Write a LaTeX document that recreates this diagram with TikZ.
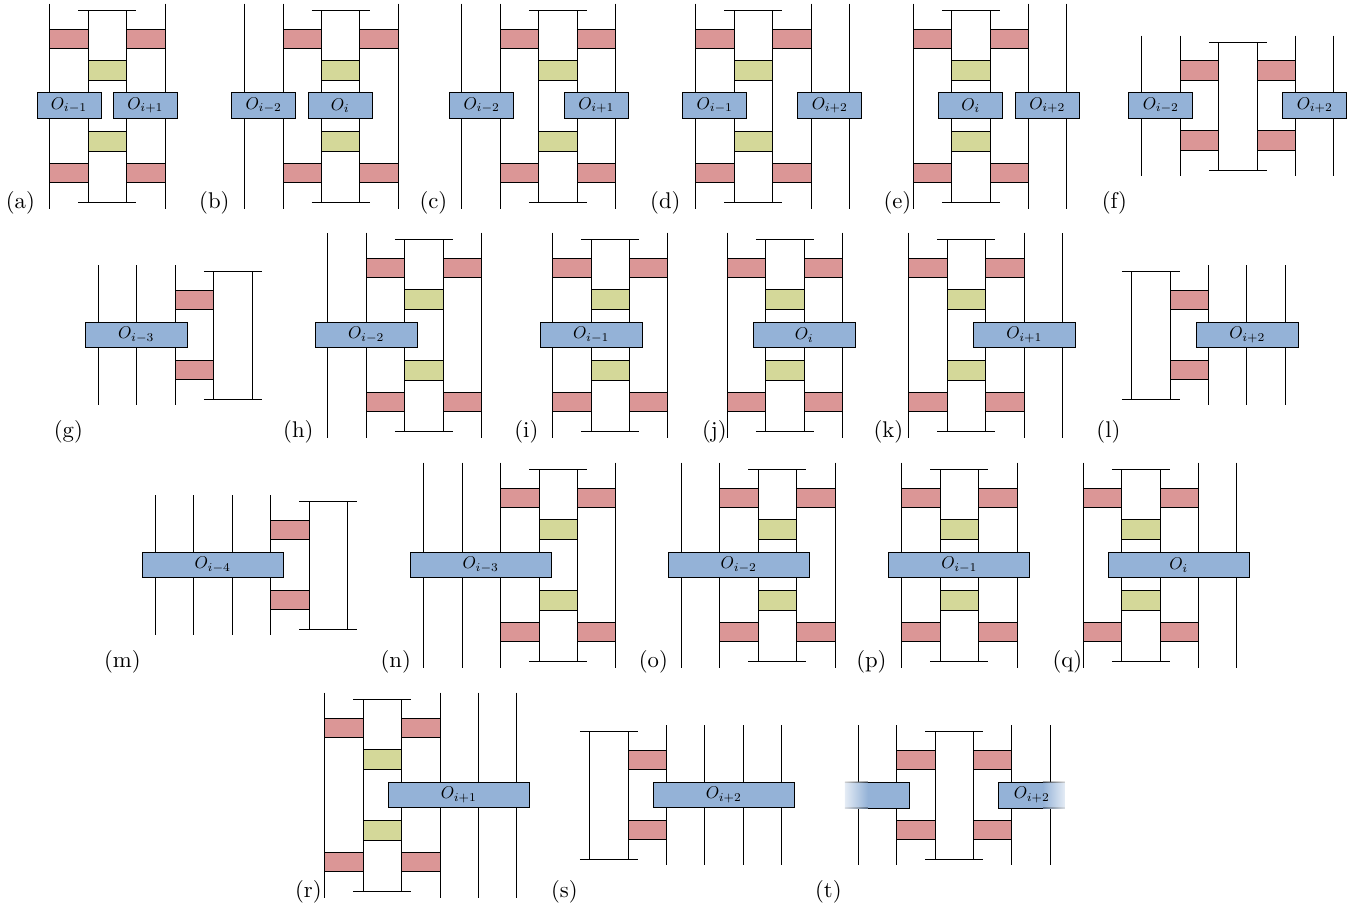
\documentclass[tikz,border=0pt]{standalone}
\definecolor{gatered}{HTML}{DB9696}
\definecolor{gategreen}{HTML}{D4D899}
\definecolor{opblue}{HTML}{94B2D7}
\tikzset{
ugate/.style={draw,fill=gatered,minimum width=16.9pt,minimum height=8.45pt,inner sep=0pt},
vgate/.style={draw,fill=gategreen,minimum width=16.9pt,minimum height=8.45pt,inner sep=0pt},
opbox/.style={draw,fill=opblue,scale=.75,minimum width=#1*.5867pt,minimum height=15.07pt,inner sep=0pt},
}
\begin{document}
\begin{tikzpicture}[x=.44pt,y=-.44pt,
brick/.pic={\draw (-57.6,-102.5)--(-57.6,102.5) (57.6,-102.5)--(57.6,102.5) (-19.2,-96)--(-19.2,96) (19.2,-96)--(19.2,96) (-29,-96)--(29,-96) (-29,96)--(29,96);
\foreach \s/\m in {-1/u,1/d} {\node[ugate] (l\m) at (-38.4,\s*67) {}; \node[ugate] (r\m) at (38.4,\s*67) {}; \node[vgate] (c\m) at (0,\s*35.5) {};}},
capped/.pic={\draw (-19.2,-64)--(-19.2,64) (19.2,-64)--(19.2,64) (-29,-64)--(29,-64) (-29,64)--(29,64);},
leftred/.pic={\node[ugate] (u) at (-38.4,-35) {}; \node[ugate] (d) at (-38.4,35) {};},
rightred/.pic={\node[ugate] (u) at (38.4,-35) {}; \node[ugate] (d) at (38.4,35) {};}]
\useasboundingbox (.2,0) rectangle (1370.2,909);
% bare wires
\foreach \x/\y in {244.8/106,462/106,849.6/106,1067/106,328/335.5,1062.6/335.5,424.1/565,462.5/565,681.6/565,1237/565,478.2/795,516.6/795} \draw (\x,\y-102.5)--(\x,\y+102.5);
\foreach \x/\y in {1142/105.5,1180.4/105.5,1295.6/105.5,1334/105.5,98.2/335,136.6/335,175.4/335,1208.6/335,1247/335,1285.4/335,155.7/565,194.1/565,232.5/565,270.9/565,666.6/795,705/795,743.4/795,781.8/795,858.5/795,896.9/795,1012.1/795,1050.5/795} \draw (\x,\y-70)--(\x,\y+70);
% bricks
\foreach \n/\cx/\y in {a/107.6/106,b/340.8/106,c/558/106,d/753.6/106,e/971/106,h/424/335,i/610.5/335,j/785/335,k/966.6/335,n/558.5/565,o/777.6/565,p/959.6/565,q/1141/565,r/382.6/795}
 \pic (\n) at (\cx,\y) {brick};
\foreach \n/\cx/\y in {f/1238/106,g/233/335,l/1151/335,m/328.5/565,s/609/795,t/954.5/795}
 \pic (\n) at (\cx,\y) {capped};
\foreach \n/\cx/\y in {f/1238/105.5,g/233/335,m/328.5/565,t/954.5/795}
 \pic (\n l) at (\cx,\y) {leftred};
\foreach \n/\cx/\y in {f/1238/105.5,l/1151/335,s/609/795,t/954.5/795}
 \pic (\n r) at (\cx,\y) {rightred};
% operators
\foreach \n/\x/\y/\w/\t in {a1/69.2/105.5/64/i-1,a2/145.6/105.5/64/i+1,b1/264/105.5/64/i-2,b2/340.5/105.5/64/i,c1/482/105.5/64/i-2,c2/596.5/105.5/64/i+1,d1/715/105.5/64/i-1,d2/830/105.5/64/i+2,e1/971/105.5/64/i,e2/1047.5/105.5/64/i+2,f1/1161/105.5/64/i-2,f2/1315/105.5/64/i+2,
g1/136.5/335/102.4/i-3,h1/366.5/335/102.4/i-2,i1/591.5/335/102.4/i-1,j1/804.5/335/102.4/i,k1/1024.5/335/102.4/i+1,l1/1247.5/335/102.4/i+2,
m1/213/565/140.8/i-4,n1/481/565/140.8/i-3,o1/739/565/140.8/i-2,p1/959.5/565/140.8/i-1,q1/1179/565/140.8/i,r1/459/795/140.8/i+1,s1/724/795/140.8/i+2}
 \node[opbox=\w] (op\n) at (\x,\y) {$O_{\t}$};
% faded operators of the last panel
\shade[left color=opblue!25,right color=opblue] (845,782) rectangle (868,808);
\shade[left color=black!25,right color=black] (845,781.6) rectangle (868,782.5) (845,807.5) rectangle (868,808.4);
\shade[left color=opblue,right color=opblue!25] (1043,782) rectangle (1065,808);
\shade[left color=black,right color=black!25] (1043,781.6) rectangle (1065,782.5) (1043,807.5) rectangle (1065,808.4);
\draw[fill=opblue] (868,782) -- (910,782) -- (910,808) -- (868,808);
\draw[fill=opblue] (1043,782) -- (999,782) -- (999,808) -- (1043,808);
\node[scale=.75,inner sep=0pt] (opt1) at (1032,795) {$O_{i+2}$};
% panel labels
\foreach \t/\x/\y in {a/20.6/202.6,b/214.6/202.6,c/433.6/202.6,d/665.6/202.6,e/897.6/202.6,f/1114.6/202.6,g/68.6/431.6,h/298.6/431.6,i/526.6/431.6,j/714.6/431.6,k/888.6/431.6,l/1108.6/431.6,m/122.6/661.6,n/396/661.6,o/653.6/661.6,p/871.6/661.6,q/1067.6/661.6,r/308.6/891.6,s/564.6/891.6,t/828.6/891.6}
 \node (lab\t) at (\x,\y) {(\t)};
\end{tikzpicture}
\end{document}
